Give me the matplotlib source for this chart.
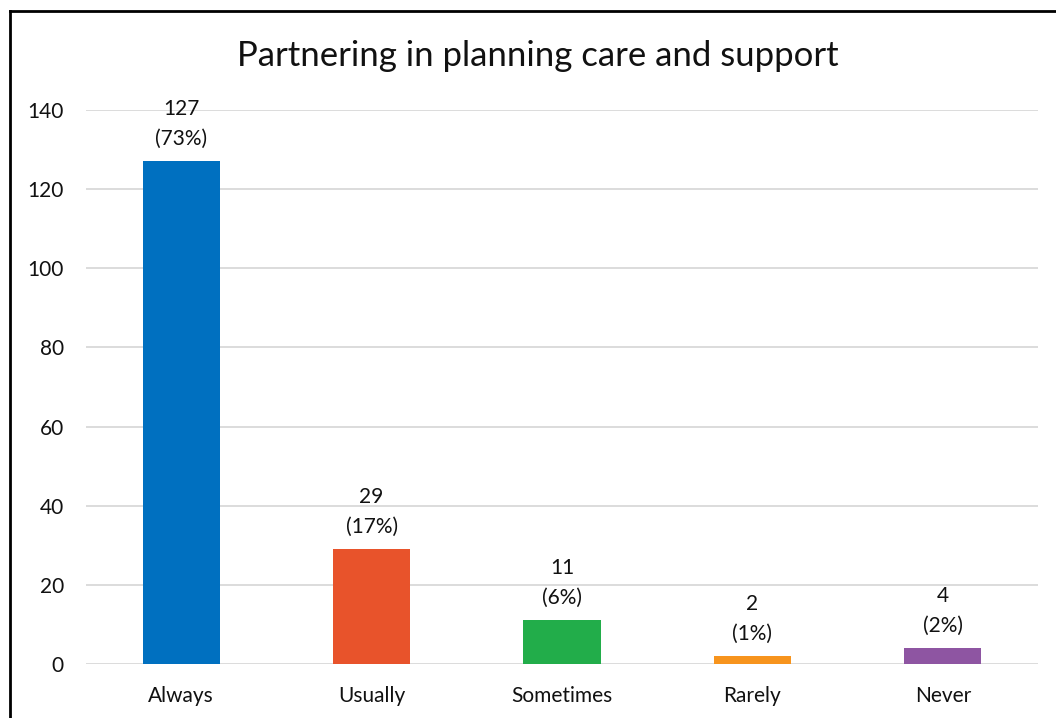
import matplotlib.pyplot as plt
from matplotlib.lines import Line2D

plt.rcParams['font.family'] = ['Lato', 'DejaVu Sans']

categories = ["Always", "Usually", "Sometimes", "Rarely", "Never"]
counts = [127, 29, 11, 2, 4]
percents = [73, 17, 6, 1, 2]
colors = ["#0070C0", "#E8532B", "#22AD4A", "#F7941D", "#8E55A2"]
yticks = [0, 20, 40, 60, 80, 100, 120, 140]

W, H = 1056, 718
fig = plt.figure(figsize=(W / 100, H / 100), dpi=100)
ax = fig.add_axes([86 / W, (H - 664) / H, (1038 - 86) / W, (664 - 110) / H])

x = range(len(categories))
ax.bar(x, counts, width=0.405, color=colors, zorder=3)

for i, (c, p) in enumerate(zip(counts, percents)):
    ax.annotate(f"{c}\n({p}%)", (i, c), xytext=(0, 9), textcoords="offset points",
                ha="center", va="bottom", fontsize=15, linespacing=1.6, color="#111111")

ax.set_xlim(-0.5, len(categories) - 0.5)
ax.set_ylim(0, 140)
ax.set_yticks(yticks)
ax.set_xticks(list(x))
ax.set_xticklabels(categories)
ax.yaxis.grid(True, color="#D9D9D9", linewidth=1.3, zorder=0)
ax.tick_params(length=0, labelsize=15, colors="#111111")
ax.tick_params(axis="x", pad=16)
ax.tick_params(axis="y", pad=16)
for s in ax.spines.values():
    s.set_visible(False)

fig.text(538 / W, 1 - 56 / H, "Partnering in planning care and support",
         ha="center", va="center", fontsize=25, color="#111111")

# outer frame: only left and top edges fall inside the image
fig.add_artist(Line2D([10 / W, 10 / W], [0, 1 - 11 / H], color="black", linewidth=2, transform=fig.transFigure))
fig.add_artist(Line2D([10 / W, 1], [1 - 11 / H, 1 - 11 / H], color="black", linewidth=2, transform=fig.transFigure))

fig.savefig("out.png", dpi=100)
